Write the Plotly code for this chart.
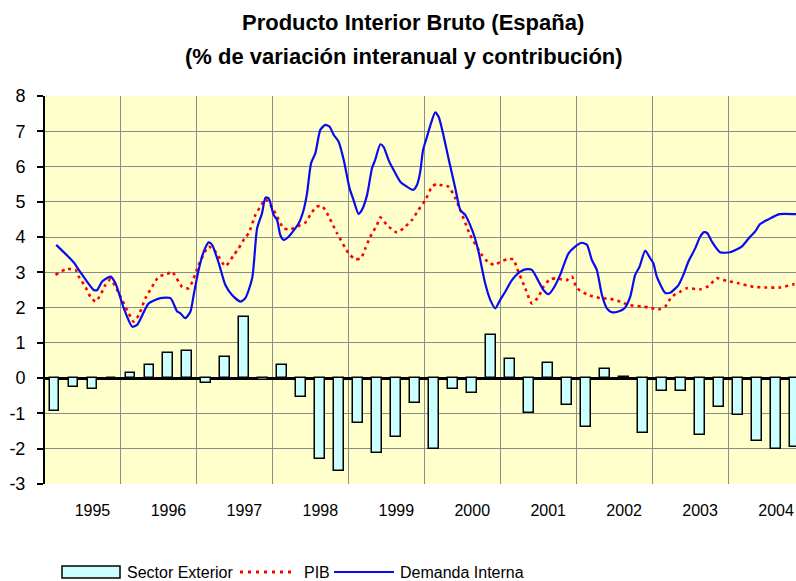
import plotly.graph_objects as go

# ---------------- data ----------------
quarters = [f"{y}-{q}" for y in range(1995, 2005) for q in ("I", "II", "III", "IV")]
sector_exterior = [-0.92, -0.25, -0.31, 0.00, 0.15, 0.38, 0.72, 0.78,
                   -0.14, 0.60, 1.74, -0.05, 0.37, -0.54, -2.28, -2.63,
                   -1.27, -2.12, -1.66, -0.71, -2.02, -0.31, -0.42, 1.23,
                   0.54, -0.99, 0.44, -0.76, -1.38, 0.27, 0.03, -1.55,
                   -0.36, -0.36, -1.60, -0.82, -1.05, -1.77, -2.02, -1.94]

# lines: position in quarter-index units, value
demanda_t = [0.09, 1.02, 1.28, 2.07, 2.25, 2.51, 2.95, 3.21, 3.65, 4.09, 4.35, 4.96, 5.58, 6.11,
             6.46, 6.63, 6.89, 7.16, 7.33, 7.59, 7.86, 8.12, 8.30, 8.65, 9.00, 9.35, 9.79, 10.05,
             10.41, 10.67, 10.93, 11.11, 11.28, 11.54, 11.72, 11.89, 12.07, 12.33, 12.86, 13.12,
             13.30, 13.51, 13.74, 14.00, 14.26, 14.49, 14.70, 14.96, 15.23, 15.54, 15.75, 16.01,
             16.19, 16.46, 16.72, 16.89, 17.16, 17.33, 17.59, 17.86, 18.21, 18.56, 18.88, 19.09,
             19.26, 19.41, 19.62, 19.83, 20.05, 20.23, 20.44, 20.75, 21.11, 21.37, 21.63, 21.89,
             22.12, 22.33, 22.68, 22.95, 23.21, 23.47, 23.74, 24.09, 24.53, 24.88, 25.14, 25.41,
             25.75, 26.02, 26.28, 26.63, 27.07, 27.42, 27.77, 28.04, 28.30, 28.56, 28.83, 29.09,
             29.35, 29.70, 30.02, 30.32, 30.58, 30.81, 31.11, 31.37, 31.54, 31.72, 32.16, 32.42,
             32.86, 33.12, 33.38, 33.74, 34.00, 34.21, 34.38, 34.62, 35.05, 35.58, 36.19, 36.63,
             36.89, 37.16, 37.59, 38.17, 39.05, 39.40]
demanda_v = [3.78, 3.28, 3.07, 2.50, 2.50, 2.74, 2.88, 2.69, 1.98, 1.46, 1.51, 2.12, 2.27, 2.27,
             1.89, 1.84, 1.70, 1.89, 2.36, 3.07, 3.59, 3.85, 3.78, 3.26, 2.64, 2.36, 2.17, 2.27,
             2.83, 4.25, 4.68, 5.12, 5.10, 4.63, 4.49, 4.06, 3.92, 4.01, 4.39, 4.77,
             5.24, 6.09, 6.38, 7.04, 7.18, 7.13, 6.90, 6.71, 6.19, 5.38, 5.05, 4.66,
             4.77, 5.19, 5.95, 6.19, 6.63, 6.56, 6.19, 5.90, 5.57, 5.43, 5.34, 5.48,
             5.85, 6.47, 6.85, 7.23, 7.54, 7.41, 6.99, 6.23, 5.38, 4.77, 4.63, 4.34,
             4.01, 3.59, 2.69, 2.22, 1.98, 2.22, 2.45, 2.78, 3.02, 3.09, 3.07, 2.83,
             2.50, 2.38, 2.55, 2.93, 3.54, 3.73, 3.84, 3.78, 3.35, 3.07, 2.36, 1.98,
             1.87, 1.89, 1.98, 2.31, 2.93, 3.16, 3.62, 3.40, 3.26, 2.88, 2.42, 2.42,
             2.64, 2.93, 3.30, 3.68, 4.01, 4.14, 4.11, 3.87, 3.57, 3.57, 3.73, 4.01,
             4.15, 4.37, 4.50, 4.65, 4.65, 4.65]

pib_t = [0.05, 0.62, 1.11, 1.28, 1.63, 1.89, 2.16, 2.42, 2.68, 2.95, 3.30, 3.56, 3.91, 4.17,
         4.44, 4.79, 5.14, 5.49, 5.93, 6.19, 6.72, 7.07, 7.33, 7.59, 8.12, 8.47, 9.00, 9.44,
         9.70, 10.02, 10.23, 10.58, 10.84, 11.11, 11.54, 12.07, 12.42, 12.95, 13.21, 13.47,
         13.79, 14.09, 14.35, 14.88, 15.49, 15.84, 16.14, 16.37, 16.63, 16.98, 17.16, 17.51,
         18.04, 18.38, 18.83, 19.17, 19.53, 19.88, 20.14, 20.32, 20.75, 21.11, 21.37, 21.89,
         22.51, 22.86, 23.21, 23.47, 23.83, 24.17, 24.35, 24.79, 25.14, 25.49, 25.75, 26.11,
         26.46, 26.98, 27.25, 27.51, 28.12, 28.74, 29.26, 29.79, 30.23, 30.93, 31.28, 31.81,
         32.16, 32.51, 32.95, 33.30, 34.00, 34.44, 34.88, 35.40, 36.02, 36.81, 37.51, 38.21,
         38.91, 39.40]
pib_v = [2.93, 3.09, 3.07, 2.88, 2.59, 2.31, 2.17, 2.36, 2.64, 2.80, 2.50, 2.22, 1.84, 1.60,
         1.79, 2.27, 2.59, 2.88, 2.95, 3.02, 2.59, 2.55, 2.83, 3.21, 3.73, 3.59, 3.18, 3.49,
         3.68, 3.97, 4.11, 4.63, 4.86, 5.07, 4.77, 4.25, 4.22, 4.34, 4.41, 4.63,
         4.86, 4.88, 4.68, 4.11, 3.54, 3.37, 3.40, 3.68, 4.01, 4.34, 4.56, 4.34,
         4.13, 4.25, 4.49, 4.77, 5.05, 5.43, 5.51, 5.48, 5.43, 5.10, 4.77, 4.06,
         3.49, 3.28, 3.21, 3.30, 3.37, 3.37, 3.12, 2.55, 2.12, 2.31, 2.59, 2.81,
         2.83, 2.78, 2.88, 2.55, 2.36, 2.27, 2.25, 2.17, 2.08, 2.03, 2.01, 1.95,
         2.03, 2.31, 2.45, 2.55, 2.52, 2.61, 2.83, 2.76, 2.69, 2.59, 2.57, 2.57,
         2.66, 2.70]

year_labels = ["1995", "1996", "1997", "1998", "1999", "2000", "2001", "2002", "2003", "2004"]
year_label_pos = [4 * i + 2 for i in range(len(year_labels))]
y_ticks = [-3, -2, -1, 0, 1, 2, 3, 4, 5, 6, 7, 8]
y_tick_text = [str(v) for v in y_ticks]

# ---------------- figure ----------------
W, H = 796, 581
L, T, B, R = 45, 96, 97, 0
FONT = "Arial, Liberation Sans, sans-serif"
CYAN = "#CCFFFF"
RED = "#FF0000"
BLUE = "#0A0AF0"

fig = go.Figure()
fig.add_trace(go.Bar(x=list(range(len(quarters))), y=sector_exterior, width=0.52,
                     marker=dict(color=CYAN, line=dict(color="black", width=1.5)),
                     name="Sector Exterior", showlegend=False))
fig.add_trace(go.Scatter(x=pib_t, y=pib_v, mode="lines", name="PIB", showlegend=False,
                         line=dict(color=RED, width=2.6, dash="3px,4px", shape="spline", smoothing=0.6)))
fig.add_trace(go.Scatter(x=demanda_t, y=demanda_v, mode="lines", name="Demanda Interna", showlegend=False,
                         line=dict(color=BLUE, width=2.2, shape="spline", smoothing=0.6)))

pw, ph = W - L - R, H - T - B


def px_x(x):
    return (x - L) / pw


def px_y(y):
    return (H - B - y) / ph


shapes = []
annotations = []
# title
annotations.append(dict(text="<b>Producto Interior Bruto (España)</b>", xref="paper", yref="paper",
                        x=px_x(413), y=px_y(22), xanchor="center", yanchor="middle", showarrow=False,
                        font=dict(family=FONT, size=22, color="black")))
annotations.append(dict(text="<b>(% de variación interanual y contribución)</b>", xref="paper", yref="paper",
                        x=px_x(404), y=px_y(57), xanchor="center", yanchor="middle", showarrow=False,
                        font=dict(family=FONT, size=22, color="black")))
# legend (drawn manually)
ly = 572
shapes.append(dict(type="rect", xref="paper", yref="paper", x0=px_x(62), x1=px_x(120),
                   y0=px_y(578), y1=px_y(566), fillcolor=CYAN, line=dict(color="black", width=1.5)))
annotations.append(dict(text="Sector Exterior", xref="paper", yref="paper", x=px_x(125), y=px_y(ly),
                        xanchor="left", yanchor="middle", showarrow=False,
                        font=dict(family=FONT, size=16, color="black")))
shapes.append(dict(type="line", xref="paper", yref="paper", x0=px_x(240), x1=px_x(291),
                   y0=px_y(ly), y1=px_y(ly), line=dict(color=RED, width=3, dash="3px,5px")))
annotations.append(dict(text="PIB", xref="paper", yref="paper", x=px_x(302), y=px_y(ly),
                        xanchor="left", yanchor="middle", showarrow=False,
                        font=dict(family=FONT, size=16, color="black")))
shapes.append(dict(type="line", xref="paper", yref="paper", x0=px_x(334), x1=px_x(394),
                   y0=px_y(ly), y1=px_y(ly), line=dict(color=BLUE, width=2)))
annotations.append(dict(text="Demanda Interna", xref="paper", yref="paper", x=px_x(398), y=px_y(ly),
                        xanchor="left", yanchor="middle", showarrow=False,
                        font=dict(family=FONT, size=16, color="black")))

fig.update_layout(
    width=W, height=H, autosize=False,
    margin=dict(l=L, r=R, t=T, b=B, pad=0),
    paper_bgcolor="white", plot_bgcolor="#FFFFCC",
    font=dict(family=FONT, color="black"),
    showlegend=False, bargap=0,
    shapes=shapes, annotations=annotations,
    xaxis=dict(range=[-0.5, 39.05], tickmode="array", tickvals=year_label_pos, ticktext=year_labels,
               showgrid=False, zeroline=False, showline=False, ticks="",
               tickfont=dict(size=16, family=FONT, color="black"), ticklabelstandoff=15,
               minor=dict(tick0=-0.5, dtick=4, showgrid=True, gridcolor="#8C8C8C", gridwidth=1, ticks="")),
    yaxis=dict(range=[-3, 8], tickmode="array", tickvals=y_ticks, ticktext=y_tick_text,
               showgrid=True, gridcolor="#8C8C8C", gridwidth=1,
               zeroline=True, zerolinecolor="black", zerolinewidth=3,
               showline=True, linecolor="black", linewidth=2, ticks="outside", ticklen=6,
               tickcolor="black", tickwidth=1.5, tickfont=dict(size=18, family=FONT, color="black"),
               ticklabelstandoff=8),
)

fig.write_html("out.html", config={"displayModeBar": False},
               post_script="document.body.style.margin='0';")
